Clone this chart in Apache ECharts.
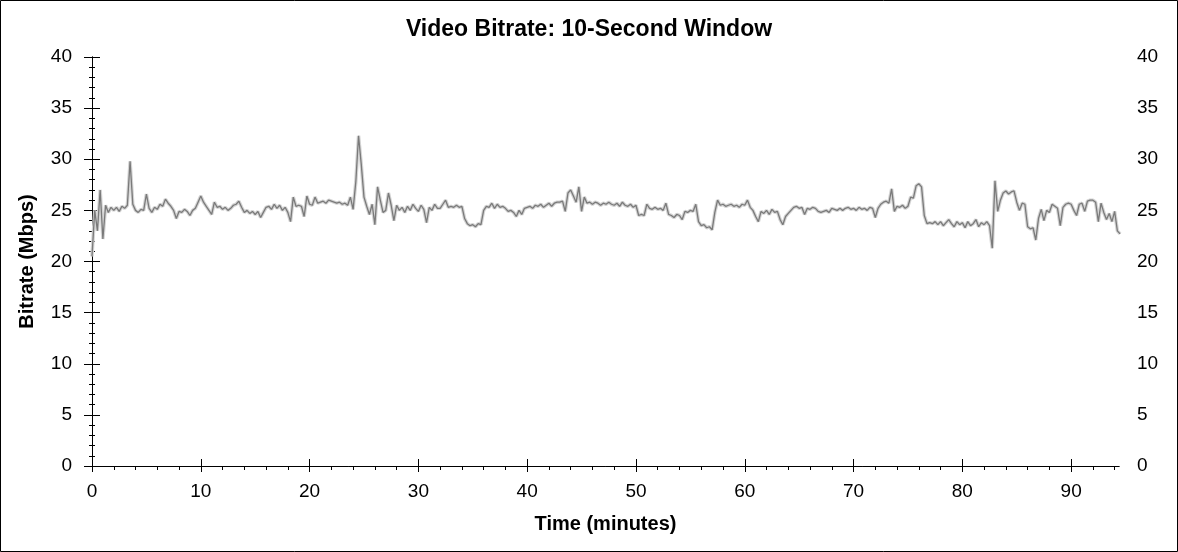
<!DOCTYPE html>
<html>
<head>
<meta charset="utf-8">
<script src="https://cdn.jsdelivr.net/npm/echarts@6/dist/echarts.min.js"></script>
<style>
html,body{margin:0;padding:0;background:#fff;}
#chart{width:1178px;height:552px;}
</style>
</head>
<body>
<div id="chart"></div>
<script>
// Samples every 0.25 minute starting at 0
const startMin = 0;
const stepMin = 0.25;

const bitrateMin0to19 = [
  20.5, 25.0, 23.0, 27.0,  22.2, 25.5, 24.8, 25.3,  25.0, 25.3, 24.9, 25.4,  25.2, 25.5, 29.8, 25.6,
  25.0, 24.8, 25.1, 25.0,  26.6, 25.2, 24.8, 25.3,  25.1, 25.6, 25.4, 26.1,  25.7, 25.4, 25.0, 24.2,
  24.9, 24.8, 25.1, 24.9,  24.5, 25.0, 25.2, 25.8,  26.4, 25.8, 25.4, 25.0,  24.6, 25.8, 25.3, 25.4,
  25.1, 25.3, 25.0, 25.2,  25.5, 25.6, 25.9, 25.3,  24.8, 25.0, 24.7, 24.9,  24.6, 24.9, 24.3, 24.8,
  25.3, 25.4, 25.1, 25.6,  25.2, 25.5, 25.0, 25.3,  24.8, 23.9, 26.3, 25.4,  25.5, 25.4, 24.4, 26.4
];
const bitrateMin20to39 = [
  25.6, 25.5, 26.3, 25.7,  25.8, 25.9, 25.7, 26.0,  25.9, 25.8, 25.7, 25.8,  25.6, 25.7, 25.5, 26.3,
  25.1, 27.8, 32.3, 29.5,  26.3, 25.4, 24.6, 25.6,  23.6, 27.3, 26.0, 24.8,  25.0, 26.7, 25.5, 24.0,
  25.5, 25.0, 25.3, 24.8,  25.4, 25.0, 25.6, 25.2,  24.9, 25.5, 25.1, 23.8,  25.3, 25.0, 25.6, 25.2,
  25.2, 25.6, 26.0, 25.3,  25.4, 25.3, 25.5, 25.3,  25.4, 24.2, 23.7, 23.5,  23.6, 23.4, 23.7, 23.6,
  25.0, 25.4, 25.3, 25.7,  25.2, 25.6, 25.3, 25.4,  25.2, 24.9, 25.0, 24.8,  24.4, 25.0, 24.6, 25.2
];
const bitrateMin40to59 = [
  25.3, 25.4, 25.2, 25.5,  25.4, 25.6, 25.3, 25.5,  25.7, 25.4, 25.7, 25.8,  25.8, 25.9, 24.9, 26.7,
  27.0, 26.4, 25.8, 27.3,  24.9, 26.3, 25.7, 25.8,  25.6, 25.8, 25.7, 25.5,  25.7, 25.6, 25.8, 25.6,
  25.5, 25.7, 25.4, 25.8,  25.5, 25.4, 25.6, 25.3,  25.5, 24.5, 24.6, 24.5,  25.6, 25.2, 25.1, 25.3,
  25.1, 25.2, 25.0, 25.7,  24.6, 24.5, 24.3, 24.6,  24.5, 24.1, 24.9, 24.8,  25.0, 24.9, 25.6, 23.9,
  23.5, 23.6, 23.3, 23.4,  23.1, 24.8, 26.0, 25.5,  25.6, 25.4, 25.5, 25.6,  25.4, 25.5, 25.3, 25.6
];
const bitrateMin60to79 = [
  25.5, 26.0, 25.3, 25.0,  24.4, 23.9, 24.9, 24.7,  25.0, 24.6, 25.1, 24.8,  24.9, 24.1, 23.6, 24.4,
  24.7, 25.0, 25.3, 25.4,  25.2, 25.3, 24.6, 25.2,  25.1, 25.3, 25.2, 24.9,  24.8, 24.9, 25.0, 24.8,
  25.2, 25.1, 25.0, 25.2,  25.0, 25.2, 25.3, 25.1,  25.2, 25.0, 25.3, 25.1,  25.2, 25.0, 25.3, 25.2,
  24.3, 25.2, 25.6, 25.8,  25.9, 25.7, 27.1, 24.9,  25.4, 25.3, 25.5, 25.2,  25.4, 26.3, 26.2, 27.4,
  27.6, 27.3, 24.5, 23.7,  23.8, 23.7, 23.9, 23.6,  23.9, 23.5, 23.8, 24.1,  23.7, 23.4, 23.9, 23.6
];
const bitrateMin80to94 = [
  23.8, 23.3, 23.9, 23.5,  23.7, 24.1, 23.4, 23.8,  23.6, 23.9, 23.5, 21.3,  27.9, 24.9, 26.0, 26.7,
  26.9, 26.6, 26.8, 26.9,  25.8, 25.0, 25.7, 25.6,  23.4, 23.2, 23.3, 22.1,  24.2, 25.1, 24.0, 25.0,
  24.8, 25.6, 25.4, 25.2,  23.5, 25.3, 25.6, 25.7,  25.6, 25.0, 24.5, 25.6,  25.7, 24.9, 25.9, 26.0,
  26.0, 25.8, 23.9, 25.7,  24.8, 24.1, 24.7, 23.9,  24.9, 23.0, 22.7
];

const xMajorTicks = [0, 10, 20, 30, 40, 50, 60, 70, 80, 90];
const xMinorTicks = [2, 4, 6, 8, 12, 14, 16, 18, 22, 24, 26, 28, 32, 34, 36, 38, 42, 44, 46, 48,
  52, 54, 56, 58, 62, 64, 66, 68, 72, 74, 76, 78, 82, 84, 86, 88, 92, 94];

const bitrate = [].concat(bitrateMin0to19, bitrateMin20to39, bitrateMin40to59, bitrateMin60to79, bitrateMin80to94);
const seriesData = bitrate.map((v, i) => [startMin + i * stepMin, v]);

const FONT = 'Arial, "Liberation Sans", sans-serif';
const X_MAX = 94.4;

const chart = echarts.init(document.getElementById('chart'), null, {renderer: 'canvas'});
const tickLine = {color: '#000', width: 1};

const option = {
  animation: false,
  backgroundColor: '#fff',
  title: {
    text: 'Video Bitrate: 10-Second Window',
    left: 'center',
    top: 13,
    textStyle: {fontFamily: FONT, fontSize: 23, fontWeight: 'bold', color: '#000'}
  },
  graphic: [{
    type: 'rect',
    shape: {x: 0.5, y: 0.5, width: 1177, height: 551},
    style: {fill: 'none', stroke: '#000', lineWidth: 1},
    silent: true
  }],
  grid: {left: 92, right: 59, top: 57, height: 409, containLabel: false},
  xAxis: [
    {
      type: 'value', position: 'bottom', min: 0, max: X_MAX,
      name: 'Time (minutes)', nameLocation: 'middle', nameGap: 48,
      nameTextStyle: {fontFamily: FONT, fontSize: 20, fontWeight: 'bold', color: '#000'},
      axisLine: {show: true, lineStyle: tickLine},
      axisTick: {show: true, inside: true, length: 7, customValues: xMajorTicks, lineStyle: tickLine},
      axisLabel: {show: true, customValues: xMajorTicks, margin: 16, fontFamily: FONT, fontSize: 19, color: '#000'},
      splitLine: {show: false}
    },
    {
      type: 'value', position: 'bottom', min: 0, max: X_MAX,
      axisLine: {show: false},
      axisTick: {show: true, inside: false, length: 4, customValues: xMinorTicks, lineStyle: tickLine},
      axisLabel: {show: false},
      splitLine: {show: false}
    },
    {
      type: 'value', position: 'top', min: 0, max: X_MAX,
      axisLine: {show: true, lineStyle: tickLine},
      axisTick: {show: true, inside: true, length: 6, customValues: xMajorTicks, lineStyle: tickLine},
      axisLabel: {show: false},
      splitLine: {show: false}
    },
    {
      type: 'value', position: 'top', min: 0, max: X_MAX,
      axisLine: {show: false},
      axisTick: {show: true, inside: true, length: 4, customValues: xMinorTicks, lineStyle: tickLine},
      axisLabel: {show: false},
      splitLine: {show: false}
    }
  ],
  yAxis: [
    {
      type: 'value', position: 'left', min: 0, max: 40, interval: 5,
      name: 'Bitrate (Mbps)', nameLocation: 'middle', nameGap: 55, nameRotate: 90,
      nameTextStyle: {fontFamily: FONT, fontSize: 20, fontWeight: 'bold', color: '#000'},
      axisLine: {show: true, lineStyle: tickLine},
      axisTick: {show: true, inside: false, length: 8, lineStyle: tickLine},
      minorTick: {show: true, splitNumber: 5, length: 3, lineStyle: tickLine},
      axisLabel: {show: true, margin: 20, fontFamily: FONT, fontSize: 19, color: '#000'},
      splitLine: {show: false}
    },
    {
      type: 'value', position: 'left', min: 0, max: 40, interval: 5,
      axisLine: {show: false},
      axisTick: {show: true, inside: true, length: 8, lineStyle: tickLine},
      minorTick: {show: true, splitNumber: 5, length: 3, lineStyle: tickLine},
      axisLabel: {show: false},
      splitLine: {show: false}
    },
    {
      type: 'value', position: 'right', min: 0, max: 40, interval: 5,
      axisLine: {show: true, lineStyle: tickLine},
      axisTick: {show: true, inside: false, length: 7, lineStyle: tickLine},
      minorTick: {show: true, splitNumber: 5, length: 3, lineStyle: tickLine},
      axisLabel: {show: true, margin: 18, fontFamily: FONT, fontSize: 19, color: '#000'},
      splitLine: {show: false}
    },
    {
      type: 'value', position: 'right', min: 0, max: 40, interval: 5,
      axisLine: {show: false},
      axisTick: {show: true, inside: true, length: 7, lineStyle: tickLine},
      minorTick: {show: true, splitNumber: 5, length: 3, lineStyle: tickLine},
      axisLabel: {show: false},
      splitLine: {show: false}
    }
  ],
  series: [
    {
      name: 'halo', type: 'line', xAxisIndex: 0, yAxisIndex: 0,
      data: seriesData, showSymbol: false, symbol: 'none', clip: true,
      lineStyle: {color: '#d4d4d4', width: 3.5},
      z: 1, silent: true
    },
    {
      name: 'Video Bitrate', type: 'line', xAxisIndex: 0, yAxisIndex: 0,
      data: seriesData, showSymbol: false, symbol: 'none', clip: true,
      lineStyle: {color: '#7a7a7a', width: 1.3},
      z: 2, silent: true
    }
  ]
};
chart.setOption(option);
</script>
</body>
</html>
